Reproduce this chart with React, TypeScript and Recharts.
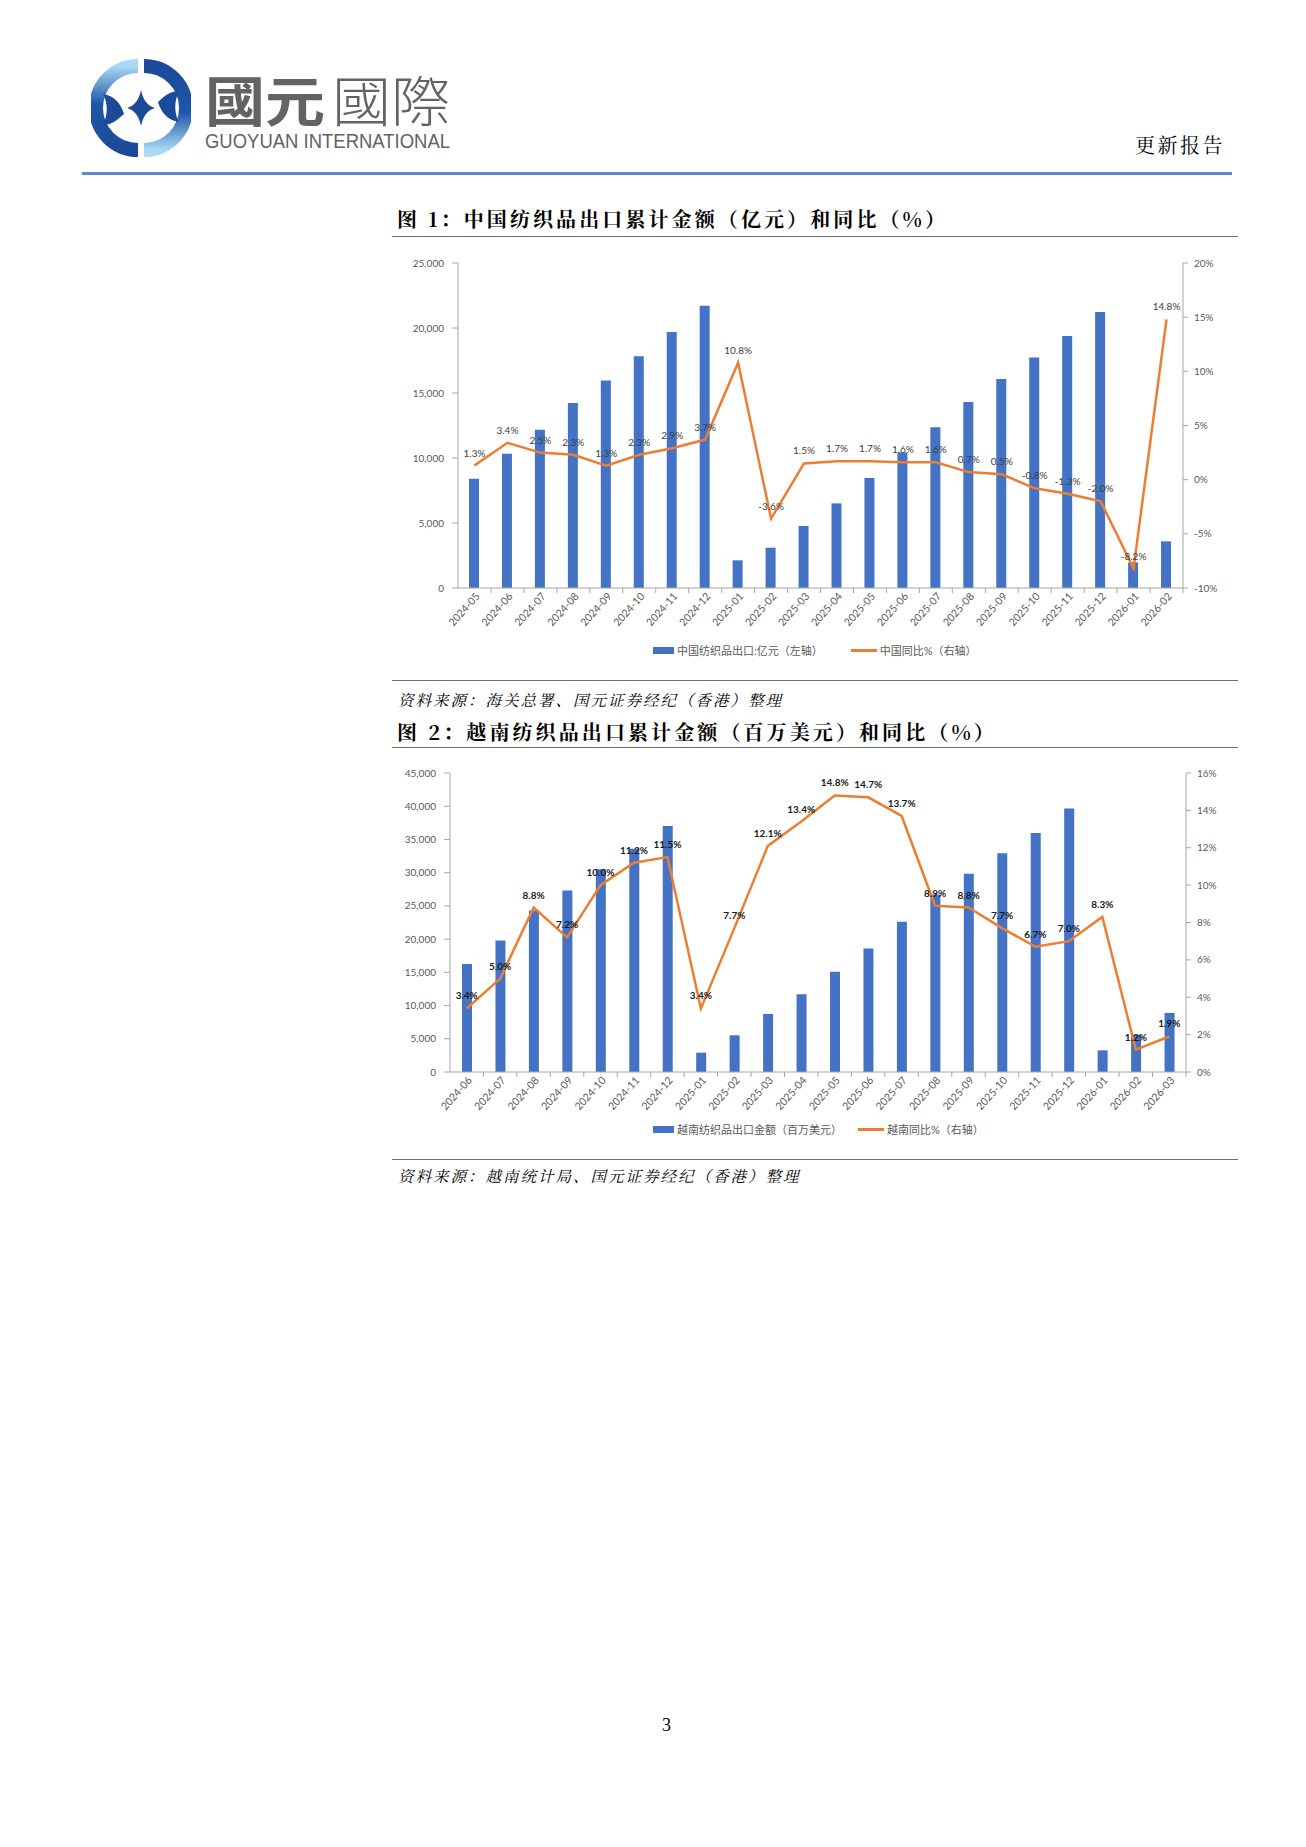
import React from 'react';
import { ComposedChart, Bar, Line, XAxis, YAxis, LabelList } from 'recharts';

// 图1 中国纺织品出口
const cnMonths = [
  '2024-05', '2024-06', '2024-07', '2024-08', '2024-09', '2024-10', '2024-11', '2024-12',
  '2025-01', '2025-02', '2025-03', '2025-04', '2025-05', '2025-06', '2025-07', '2025-08',
  '2025-09', '2025-10', '2025-11', '2025-12', '2026-01', '2026-02',
];
const cnExport = [
  8400, 10330, 12180, 14230, 15970, 17820, 19690, 21720,
  2130, 3100, 4770, 6510, 8460, 10430, 12360, 14300,
  16080, 17740, 19380, 21230, 1970, 3590,
];
const cnYoy = [
  1.3, 3.4, 2.5, 2.3, 1.3, 2.3, 2.9, 3.7,
  10.8, -3.6, 1.5, 1.7, 1.7, 1.6, 1.6, 0.7,
  0.5, -0.8, -1.3, -2.0, -8.2, 14.8,
];
const cnLeftTicks = [0, 5000, 10000, 15000, 20000, 25000];
const cnRightTicks = [-10, -5, 0, 5, 10, 15, 20];

// 图2 越南纺织品出口
const vnMonths = [
  '2024-06', '2024-07', '2024-08', '2024-09', '2024-10', '2024-11', '2024-12',
  '2025-01', '2025-02', '2025-03', '2025-04', '2025-05', '2025-06', '2025-07', '2025-08',
  '2025-09', '2025-10', '2025-11', '2025-12', '2026-01', '2026-02', '2026-03',
];
const vnExport = [
  16270, 19790, 24310, 27320, 30500, 33600, 37010,
  2910, 5520, 8740, 11700, 15070, 18580, 22600, 26700,
  29830, 32940, 35960, 39670, 3260, 5600, 8890,
];
const vnYoy = [
  3.4, 5.0, 8.8, 7.2, 10.0, 11.2, 11.5,
  3.4, 7.7, 12.1, 13.4, 14.8, 14.7, 13.7, 8.9,
  8.8, 7.7, 6.7, 7.0, 8.3, 1.2, 1.9,
];
const vnLeftTicks = [0, 5000, 10000, 15000, 20000, 25000, 30000, 35000, 40000, 45000];
const vnRightTicks = [0, 2, 4, 6, 8, 10, 12, 14, 16];

const cnData = cnMonths.map((m, i) => ({ month: m, value: cnExport[i], yoy: cnYoy[i] }));
const vnData = vnMonths.map((m, i) => ({ month: m, value: vnExport[i], yoy: vnYoy[i] }));

const BLUE = '#4472C4';
const ORANGE = '#ED7D31';
const AXIS = '#A6A6A6';
const TICK_TEXT = '#595959';
const CHART_FONT = 'Lato, "Noto Sans CJK SC", sans-serif';
const SERIF_CJK = '"Noto Serif CJK SC", "Noto Sans CJK SC", serif';

const fmtThousands = (v: number) => v.toLocaleString('en-US');
const fmtPct = (v: number) => `${v}%`;
const fmtLabel = (v: any) => `${Number(v).toFixed(1)}%`;

function XTick(props: any) {
  const { x, y, payload, half } = props;
  const tx = x + 4;
  const ty = y + 7;
  return (
    <g>
      <line x1={x + half} y1={y} x2={x + half} y2={y + 5} stroke={AXIS} />
      <text
        x={tx}
        y={ty}
        transform={`rotate(-48, ${tx}, ${ty})`}
        textAnchor="end"
        dominantBaseline="middle"
        fontSize={10.5}
        fill={TICK_TEXT}
        fontFamily={CHART_FONT}
      >
        {payload.value}
      </text>
    </g>
  );
}

function Logo() {
  return (
    <svg width={100} height={100} viewBox="0 0 100 100" style={{ position: 'absolute', left: 91, top: 58 }}>
      <defs>
        <linearGradient id="lg-left" x1="0" y1="1" x2="0" y2="0">
          <stop offset="0%" stopColor="#1B4A9A" />
          <stop offset="55%" stopColor="#1E56A8" />
          <stop offset="100%" stopColor="#A9D9F4" />
        </linearGradient>
        <linearGradient id="lg-right" x1="0" y1="0" x2="0" y2="1">
          <stop offset="0%" stopColor="#1B4A9A" />
          <stop offset="55%" stopColor="#1E56A8" />
          <stop offset="100%" stopColor="#A9D9F4" />
        </linearGradient>
      </defs>
      <path d="M 47 92 A 42 42 0 0 1 47 8" fill="none" stroke="url(#lg-left)" strokeWidth={14} />
      <path d="M 53 8 A 42 42 0 0 1 53 92" fill="none" stroke="url(#lg-right)" strokeWidth={14} />
      <path d="M 12 36 C 24 38, 30 46, 33 56 C 26 62, 20 68, 12 66 C 17 58, 17 44, 12 36 Z" fill="#1B4A9A" />
      <path d="M 88 64 C 76 62, 70 54, 67 44 C 74 38, 80 32, 88 34 C 83 42, 83 56, 88 64 Z" fill="#1B4A9A" />
      <path d="M 50 32 Q 53 47, 64 50 Q 53 53, 50 68 Q 47 53, 36 50 Q 47 47, 50 32 Z" fill="#1B4A9A" />
    </svg>
  );
}

function Legend({ top, barName, lineName, gap }: { top: number; barName: string; lineName: string; gap: number }) {
  const textStyle: React.CSSProperties = { fontSize: 11, color: TICK_TEXT, fontFamily: CHART_FONT, whiteSpace: 'nowrap' };
  return (
    <div style={{ position: 'absolute', left: 653, top: top - 8, height: 16, display: 'flex', alignItems: 'center' }}>
      <span style={{ display: 'inline-block', width: 21, height: 7, background: BLUE, marginRight: 3 }} />
      <span style={textStyle}>{barName}</span>
      <span style={{ display: 'inline-block', width: 26, height: 3, background: ORANGE, marginLeft: gap, marginRight: 3 }} />
      <span style={textStyle}>{lineName}</span>
    </div>
  );
}

const ruleStyle = (top: number): React.CSSProperties => ({
  position: 'absolute', left: 392, width: 846, top, height: 0, borderTop: '1.5px solid #6E6E6E',
});

const titleStyle = (top: number): React.CSSProperties => ({
  position: 'absolute', left: 397, top, fontFamily: SERIF_CJK, fontWeight: 700, fontSize: 20,
  letterSpacing: 3.1, color: '#000', whiteSpace: 'nowrap', lineHeight: '24px',
});

const sourceStyle = (top: number): React.CSSProperties => ({
  position: 'absolute', left: 398, top, fontFamily: SERIF_CJK, fontStyle: 'italic', fontSize: 15.5,
  letterSpacing: 2.0, color: '#000', whiteSpace: 'nowrap', lineHeight: '20px',
});

export default function App() {
  return (
    <div style={{ position: 'absolute', left: 0, top: 0, width: 1306, height: 1847, background: '#fff', overflow: 'hidden' }}>
      {/* header */}
      <Logo />
      <svg width={340} height={110} style={{ position: 'absolute', left: 200, top: 50 }}>
        <text x={5} y={72} fontSize={54} fontFamily='"Noto Sans CJK SC", sans-serif' fontWeight={700} fill="#656263" textLength={120} lengthAdjust="spacingAndGlyphs">國元</text>
        <text x={132} y={72} fontSize={54} fontFamily='"Noto Sans CJK SC", sans-serif' fontWeight={300} fill="#656263" textLength={118} lengthAdjust="spacingAndGlyphs">國際</text>
        <text x={5} y={98} fontSize={21} fontFamily='"Liberation Sans", Arial, sans-serif' fill="#656263" textLength={245} lengthAdjust="spacingAndGlyphs">GUOYUAN INTERNATIONAL</text>
      </svg>
      <div style={{ position: 'absolute', left: 1135, top: 133, fontFamily: SERIF_CJK, fontSize: 20, letterSpacing: 2.5, color: '#000', lineHeight: '24px' }}>更新报告</div>
      <div style={{ position: 'absolute', left: 82, width: 1150, top: 171.5, height: 3, background: '#5A8AD0' }} />

      {/* figure 1 */}
      <div style={titleStyle(207)}>图 1：中国纺织品出口累计金额（亿元）和同比（%）</div>
      <div style={ruleStyle(236)} />
      <div style={{ position: 'absolute', left: 390, top: 250 }}>
        <ComposedChart width={860} height={430} data={cnData} margin={{ top: 13, right: 0, bottom: 0, left: 0 }}>
          <XAxis
            dataKey="month"
            height={92}
            interval={0}
            tickSize={0}
            tickMargin={0}
            tickLine={false}
            axisLine={{ stroke: AXIS }}
            tick={(p: any) => <XTick {...p} half={16.5} />}
          />
          <YAxis
            yAxisId="left"
            width={68}
            domain={[0, 25000]}
            ticks={cnLeftTicks}
            tickFormatter={fmtThousands}
            tickSize={6}
            tickMargin={8}
            tickLine={{ stroke: AXIS }}
            axisLine={{ stroke: AXIS }}
            tick={{ fontSize: 10, fill: TICK_TEXT, fontFamily: CHART_FONT }}
          />
          <YAxis
            yAxisId="right"
            orientation="right"
            width={67}
            domain={[-10, 20]}
            ticks={cnRightTicks}
            tickFormatter={fmtPct}
            tickSize={5}
            tickMargin={6}
            tickLine={{ stroke: AXIS }}
            axisLine={{ stroke: AXIS }}
            tick={{ fontSize: 10, fill: TICK_TEXT, fontFamily: CHART_FONT }}
          />
          <Bar yAxisId="left" dataKey="value" fill={BLUE} barSize={10} isAnimationActive={false} />
          <Line
            yAxisId="right"
            type="linear"
            dataKey="yoy"
            stroke={ORANGE}
            strokeWidth={2.5}
            dot={false}
            activeDot={false}
            isAnimationActive={false}
          >
            <LabelList dataKey="yoy" position="top" offset={9} formatter={fmtLabel} style={{ fontSize: 10, fill: '#404040', fontFamily: CHART_FONT }} />
          </Line>
        </ComposedChart>
      </div>
      <Legend top={650} gap={28} barName="中国纺织品出口:亿元（左轴）" lineName="中国同比%（右轴）" />
      <div style={ruleStyle(680)} />
      <div style={sourceStyle(689)}>资料来源：海关总署、国元证券经纪（香港）整理</div>

      {/* figure 2 */}
      <div style={titleStyle(720)}>图 2：越南纺织品出口累计金额（百万美元）和同比（%）</div>
      <div style={ruleStyle(747)} />
      <div style={{ position: 'absolute', left: 390, top: 760 }}>
        <ComposedChart width={860} height={400} data={vnData} margin={{ top: 13, right: 0, bottom: 0, left: 0 }}>
          <XAxis
            dataKey="month"
            height={88}
            interval={0}
            tickSize={0}
            tickMargin={0}
            tickLine={false}
            axisLine={{ stroke: AXIS }}
            tick={(p: any) => <XTick {...p} half={16.7} />}
          />
          <YAxis
            yAxisId="left"
            width={60}
            domain={[0, 45000]}
            ticks={vnLeftTicks}
            tickFormatter={fmtThousands}
            tickSize={6}
            tickMargin={8}
            tickLine={{ stroke: AXIS }}
            axisLine={{ stroke: AXIS }}
            tick={{ fontSize: 10, fill: TICK_TEXT, fontFamily: CHART_FONT }}
          />
          <YAxis
            yAxisId="right"
            orientation="right"
            width={64}
            domain={[0, 16]}
            ticks={vnRightTicks}
            tickFormatter={fmtPct}
            tickSize={5}
            tickMargin={6}
            tickLine={{ stroke: AXIS }}
            axisLine={{ stroke: AXIS }}
            tick={{ fontSize: 10, fill: TICK_TEXT, fontFamily: CHART_FONT }}
          />
          <Bar yAxisId="left" dataKey="value" fill={BLUE} barSize={10} isAnimationActive={false} />
          <Line
            yAxisId="right"
            type="linear"
            dataKey="yoy"
            stroke={ORANGE}
            strokeWidth={2.5}
            dot={false}
            activeDot={false}
            isAnimationActive={false}
          >
            <LabelList dataKey="yoy" position="top" offset={9} formatter={fmtLabel} style={{ fontSize: 10, fill: '#1A1A1A', fontWeight: 700, fontFamily: CHART_FONT }} />
          </Line>
        </ComposedChart>
      </div>
      <Legend top={1129} gap={16} barName="越南纺织品出口金额（百万美元）" lineName="越南同比%（右轴）" />
      <div style={ruleStyle(1159)} />
      <div style={sourceStyle(1165)}>资料来源：越南统计局、国元证券经纪（香港）整理</div>

      {/* page number */}
      <div style={{ position: 'absolute', left: 662, top: 1715, fontFamily: '"Liberation Serif", serif', fontSize: 18, color: '#000' }}>3</div>
    </div>
  );
}
